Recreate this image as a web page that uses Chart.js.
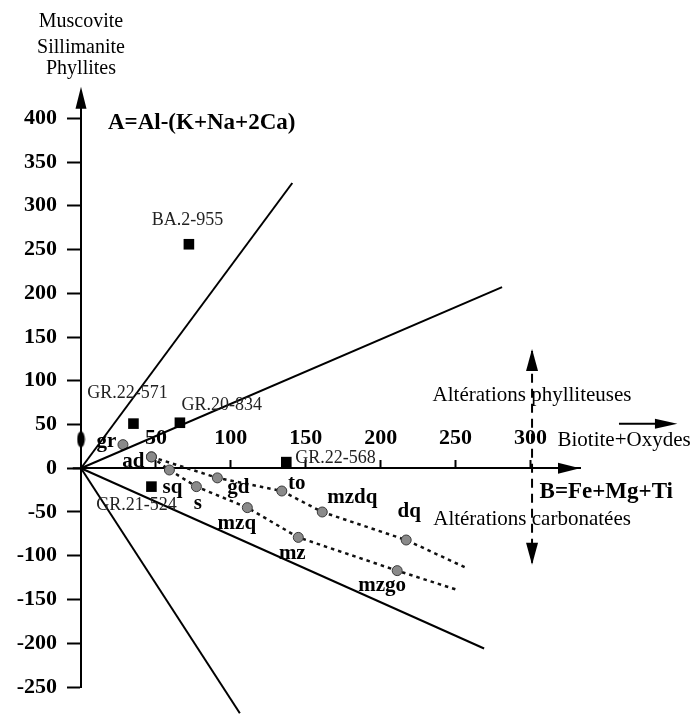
<!DOCTYPE html>
<html>
<head>
<meta charset="utf-8">
<script src="https://cdn.jsdelivr.net/npm/chart.js@4.4.0/dist/chart.umd.min.js"></script>
<style>
  html, body { margin: 0; background: #fff; }
  canvas { display: block; }
</style>
</head>
<body>
<canvas id="chart" width="694" height="715"></canvas>
<script>
// ── Data (B = Fe+Mg+Ti on x, A = Al-(K+Na+2Ca) on y) ──────────────────────────
const X_TICKS = [50, 100, 150, 200, 250, 300];
const Y_TICKS = [-250, -200, -150, -100, -50, 0, 50, 100, 150, 200, 250, 300, 350, 400];

const sampleNames = ['BA.2-955', 'GR.22-571', 'GR.20-834', 'GR.22-568', 'GR.21-524'];
const sampleB     = [72, 35, 66, 137, 47];
const sampleA     = [256, 51, 52, 7, -21];

const axisPointB = [0];
const axisPointA = [33];

// straight reference lines from the origin (end points)
const rayB = [141, 281, 269, 106];
const rayA = [326, 207, -206, -280];

// dotted evolution paths (last point of each has no marker)
const upperB = [47, 91, 134, 161, 217, 256];
const upperA = [13, -11, -26, -50, -82, -113];
const lowerB = [47, 59, 77, 111, 145, 211, 251];
const lowerA = [13, -2, -21, -45, -79, -117, -139];

const grB = [28];
const grA = [27];

// rock-type codes
const codeNames = ['gr', 'ad', 'sq', 's', 'gd', 'to', 'mzdq', 'dq', 'mzq', 'mz', 'mzgo'];
const codeB     = [17, 35, 61, 78, 105, 144, 181, 219, 104, 141, 201];
const codeA     = [30, 8, -22, -40, -22, -17, -34, -50, -63, -97, -134];

// sample label anchors
const sampleLabelB = [71, 31, 67, 143, 37];
const sampleLabelA = [283, 86, 72, 11, -42];
const sampleLabelAlign = ['center', 'center', 'left', 'left', 'center'];

// alteration boundary (vertical dashed line)
const boundaryB = 301;
const boundaryA = [-108, 134];

// ── Style ─────────────────────────────────────────────────────────────────────
const SERIF = "'Liberation Serif', 'Times New Roman', serif";
const INK = '#000';

const pts = (bs, as) => bs.map((b, i) => ({ x: b, y: as[i] }));

// tall black ellipse marker
const ellipse = document.createElement('canvas');
ellipse.width = 9; ellipse.height = 18;
(() => {
  const g = ellipse.getContext('2d');
  g.fillStyle = INK;
  g.beginPath();
  g.ellipse(4.5, 9, 3.8, 8, 0, 0, Math.PI * 2);
  g.fill();
})();

const grayPoint = {
  pointStyle: 'circle',
  pointBackgroundColor: '#8a8a8a',
  pointBorderColor: '#3a3a3a',
  pointBorderWidth: 1
};

const datasets = [];

rayB.forEach((b, i) => datasets.push({
  data: [{ x: 0, y: 0 }, { x: b, y: rayA[i] }],
  showLine: true, borderColor: INK, borderWidth: 2, pointRadius: 0, clip: false
}));

datasets.push({
  data: pts(upperB, upperA),
  showLine: true, borderColor: '#111', borderWidth: 2.5, borderDash: [3.5, 4],
  pointRadius: upperB.map((_, i) => i === upperB.length - 1 ? 0 : 5),
  ...grayPoint, clip: false
});
datasets.push({
  data: pts(lowerB, lowerA),
  showLine: true, borderColor: '#111', borderWidth: 2.5, borderDash: [3.5, 4],
  pointRadius: lowerB.map((_, i) => i === lowerB.length - 1 ? 0 : 5),
  ...grayPoint, clip: false
});
datasets.push({ data: pts(grB, grA), pointRadius: 5, ...grayPoint, clip: false });

datasets.push({
  data: pts(sampleB, sampleA),
  pointStyle: 'rect', pointRadius: 7.5, pointBackgroundColor: INK, pointBorderWidth: 0, clip: false
});
datasets.push({ data: pts(axisPointB, axisPointA), pointStyle: ellipse, clip: false });

datasets.push({
  data: boundaryA.map(a => ({ x: boundaryB, y: a })),
  showLine: true, borderColor: INK, borderWidth: 2, borderDash: [9, 6], pointRadius: 0, clip: false
});

// ── Annotations drawn on top, positioned through the scales ──────────────────
const decor = {
  id: 'decor',
  afterDraw(chart) {
    const { ctx } = chart;
    const xs = chart.scales.x, ys = chart.scales.y;
    const px = v => xs.getPixelForValue(v);
    const py = v => ys.getPixelForValue(v);

    const tri = (x1, y1, x2, y2, x3, y3) => {
      ctx.beginPath(); ctx.moveTo(x1, y1); ctx.lineTo(x2, y2); ctx.lineTo(x3, y3); ctx.closePath(); ctx.fill();
    };
    const text = (s, x, y, align, font, color) => {
      ctx.font = font; ctx.fillStyle = color || INK;
      ctx.textAlign = align; ctx.textBaseline = 'middle';
      ctx.fillText(s, x, y);
    };

    ctx.save();
    ctx.fillStyle = INK; ctx.strokeStyle = INK; ctx.lineWidth = 2;

    // A axis arrow
    const ox = px(0), oy = py(0);
    const yTip = py(436);
    ctx.beginPath(); ctx.moveTo(ox, yTip + 10); ctx.lineTo(ox, py(430)); ctx.stroke();
    tri(ox, yTip, ox - 5.5, yTip + 22, ox + 5.5, yTip + 22);

    // B axis: short stub left of origin and arrow
    ctx.beginPath(); ctx.moveTo(px(-5.5), oy); ctx.lineTo(ox, oy); ctx.stroke();
    const xTip = px(333);
    tri(xTip, oy, xTip - 22, oy - 5.5, xTip - 22, oy + 5.5);

    // boundary arrowheads
    const bx = px(boundaryB);
    const top = py(boundaryA[1]), bot = py(boundaryA[0]);
    tri(bx, top - 2, bx - 6, top + 20, bx + 6, top + 20);
    tri(bx, bot + 2, bx - 6, bot - 20, bx + 6, bot - 20);

    // Biotite+Oxydes arrow
    const ay = py(51);
    ctx.beginPath(); ctx.moveTo(px(359), ay); ctx.lineTo(px(386), ay); ctx.stroke();
    tri(px(398), ay, px(383), ay - 5, px(383), ay + 5);

    // titles and notes
    const reg = `21px ${SERIF}`;
    const bold = `bold 23px ${SERIF}`;
    text('Muscovite', px(0), py(510), 'center', `20px ${SERIF}`);
    text('Sillimanite', px(0), py(481), 'center', `20px ${SERIF}`);
    text('Phyllites', px(0), py(457), 'center', `20px ${SERIF}`);
    text('A=Al-(K+Na+2Ca)', px(18), py(394), 'left', bold);
    text('B=Fe+Mg+Ti', px(306), py(-27), 'left', bold);
    text('Altérations phylliteuses', px(boundaryB), py(83), 'center', reg);
    text('Altérations carbonatées', px(boundaryB), py(-59), 'center', reg);
    text('Biotite+Oxydes', px(318), py(32), 'left', reg);

    // sample labels
    sampleNames.forEach((s, i) =>
      text(s, px(sampleLabelB[i]), py(sampleLabelA[i]), sampleLabelAlign[i], `18px ${SERIF}`, '#222'));

    // rock codes
    codeNames.forEach((s, i) =>
      text(s, px(codeB[i]), py(codeA[i]), 'center', `bold 21px ${SERIF}`));

    ctx.restore();
  }
};

new Chart(document.getElementById('chart'), {
  type: 'scatter',
  data: { datasets },
  options: {
    responsive: false,
    animation: false,
    events: [],
    layout: { padding: { left: 0, right: 114, top: 92, bottom: 28 } },
    plugins: { legend: { display: false }, tooltip: { enabled: false } },
    scales: {
      x: {
        type: 'linear', min: 0, max: 333,
        position: { y: 0 },
        afterBuildTicks: s => { s.ticks = X_TICKS.map(v => ({ value: v })); },
        afterFit: s => { s.height = 0; },
        border: { color: INK, width: 2 },
        grid: { drawOnChartArea: false, tickLength: -9, tickWidth: 2, tickColor: INK },
        ticks: { padding: -34, color: INK, font: { family: SERIF, size: 22, weight: 'bold' } }
      },
      y: {
        type: 'linear', min: -250, max: 430,
        position: 'left',
        afterBuildTicks: s => { s.ticks = Y_TICKS.map(v => ({ value: v })); },
        afterFit: s => { s.width = 81; },
        border: { color: INK, width: 2 },
        grid: { drawOnChartArea: false, tickLength: 14, tickWidth: 2, tickColor: INK },
        ticks: { padding: 10, color: INK, font: { family: SERIF, size: 22, weight: 'bold' } }
      }
    }
  },
  plugins: [decor]
});
</script>
</body>
</html>
